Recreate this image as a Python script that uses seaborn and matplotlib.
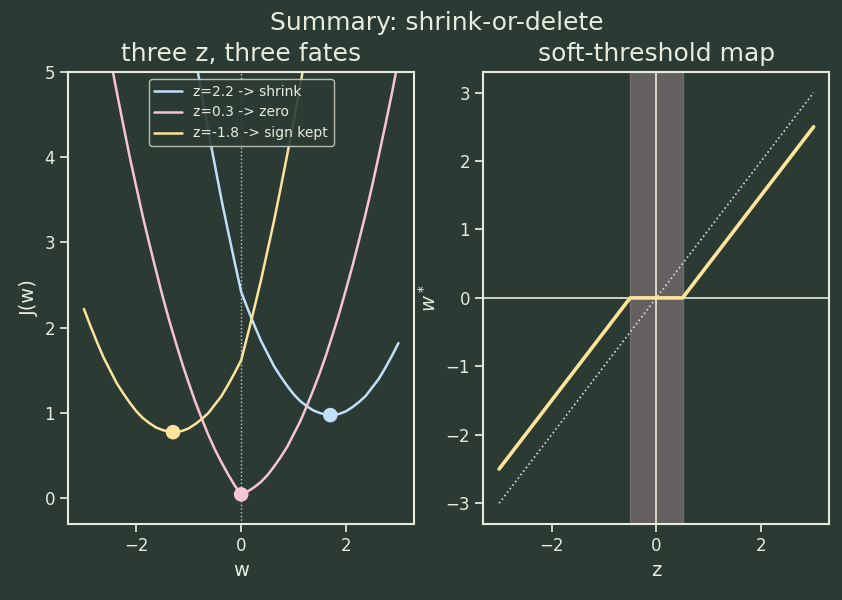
import matplotlib
matplotlib.use("Agg")
import matplotlib.pyplot as plt
import seaborn as sns

# w values and J(w)
w_grid = [-3.0, -2.875, -2.75, -2.625, -2.5, -2.375, -2.25, -2.125, -2.0, -1.875,
          -1.75, -1.625, -1.5, -1.375, -1.25, -1.125, -1.0, -0.875, -0.75, -0.625,
          -0.5, -0.375, -0.25, -0.125, 0.0, 0.125, 0.25, 0.375, 0.5, 0.625,
          0.75, 0.875, 1.0, 1.125, 1.25, 1.375, 1.5, 1.625, 1.75, 1.875,
          2.0, 2.125, 2.25, 2.375, 2.5, 2.625, 2.75, 2.875, 3.0]
J_shrink = [15.02, 14.32, 13.63, 12.95, 12.30, 11.65, 11.03, 10.42, 9.82, 9.24,
            8.68, 8.13, 7.60, 7.08, 6.58, 6.09, 5.62, 5.17, 4.73, 4.30,
            3.90, 3.50, 3.13, 2.77, 2.42, 2.22, 2.03, 1.85, 1.70, 1.55,
            1.43, 1.32, 1.22, 1.14, 1.08, 1.03, 1.00, 0.98, 0.98, 0.99,
            1.02, 1.07, 1.13, 1.20, 1.30, 1.40, 1.53, 1.67, 1.82]
J_zero = [6.95, 6.48, 6.03, 5.59, 5.17, 4.77, 4.38, 4.00, 3.65, 3.30,
          2.98, 2.67, 2.37, 2.09, 1.83, 1.58, 1.35, 1.13, 0.93, 0.74,
          0.57, 0.42, 0.28, 0.15, 0.045, 0.08, 0.13, 0.19, 0.27, 0.37,
          0.48, 0.60, 0.75, 0.90, 1.08, 1.27, 1.47, 1.69, 1.93, 2.18,
          2.45, 2.73, 3.03, 3.34, 3.67, 4.02, 4.38, 4.75, 5.15]
J_sign = [2.22, 2.02, 1.83, 1.65, 1.50, 1.35, 1.23, 1.12, 1.02, 0.94,
          0.88, 0.83, 0.80, 0.78, 0.78, 0.79, 0.82, 0.87, 0.93, 1.00,
          1.10, 1.20, 1.33, 1.47, 1.62, 1.92, 2.23, 2.55, 2.90, 3.25,
          3.63, 4.02, 4.42, 4.84, 5.28, 5.73, 6.20, 6.68, 7.18, 7.69,
          8.22, 8.77, 9.33, 9.90, 10.50, 11.10, 11.73, 12.37, 13.02]
labels = ["z=2.2 -> shrink", "z=0.3 -> zero", "z=-1.8 -> sign kept"]
w_min = [1.7, 0.0, -1.3]
J_min = [0.975, 0.045, 0.775]

# soft-threshold map
lam = 0.5
z_knots = [-3.0, -0.5, 0.5, 3.0]
w_star = [-2.5, 0.0, 0.0, 2.5]
z_ident = [-3.0, 3.0]

bg = "#2b3b34"
fg = "#e8ecdc"
colors = ["#bfdffb", "#f8c3d4", "#fde49a"]

sns.set_theme(style="ticks", rc={
    "figure.facecolor": bg, "axes.facecolor": bg, "savefig.facecolor": bg,
    "axes.edgecolor": fg, "axes.labelcolor": fg, "text.color": fg,
    "xtick.color": fg, "ytick.color": fg, "axes.linewidth": 1.5,
    "xtick.labelsize": 12, "ytick.labelsize": 12, "axes.labelsize": 14,
    "axes.titlesize": 18, "axes.grid": False,
})
plt.rcParams["font.family"] = ["DejaVu Sans"]

fig, (ax1, ax2) = plt.subplots(1, 2, figsize=(8.42, 6.0), dpi=100)
fig.subplots_adjust(left=0.081, right=0.985, top=0.88, bottom=0.127, wspace=0.2)

# left: objective curves
for J, c, lab in zip([J_shrink, J_zero, J_sign], colors, labels):
    sns.lineplot(x=w_grid, y=J, ax=ax1, color=c, lw=1.8, label=lab)
ax1.axvline(0, color="#c9d2c6", lw=1, ls=":")
sns.scatterplot(x=w_min, y=J_min, hue=labels, palette=colors, s=110,
                edgecolor="none", ax=ax1, legend=False, zorder=5)
ax1.set_ylim(-0.3, 5)
ax1.set_xticks([-2, 0, 2])
ax1.set_xlabel("w")
ax1.set_ylabel("J(w)")
ax1.set_title("three z, three fates", pad=8)
leg = ax1.legend(loc="upper center", fontsize=10, facecolor=bg, edgecolor="#c8ccc0",
                 framealpha=0.9)
for t in leg.get_texts():
    t.set_color(fg)

# right: soft-threshold map
ax2.axvspan(-lam, lam, color="#9d858a", alpha=0.5)
ax2.axhline(0, color=fg, lw=1.2)
ax2.axvline(0, color=fg, lw=1.2)
sns.lineplot(x=z_ident, y=z_ident, ax=ax2, color="#d8ded4", lw=1.2, ls=":")
sns.lineplot(x=z_knots, y=w_star, ax=ax2, color=colors[2], lw=2.6)
ax2.set_xticks([-2, 0, 2])
ax2.set_yticks([-3, -2, -1, 0, 1, 2, 3])
ax2.set_xlabel("z")
ax2.set_ylabel("$w^*$")
ax2.set_title("soft-threshold map", pad=8)

for ax in (ax1, ax2):
    for s in ax.spines.values():
        s.set_visible(True)

fig.suptitle("Summary: shrink-or-delete", fontsize=18, color=fg, x=0.519, y=0.982)
fig.savefig("out.png", dpi=100, facecolor=bg)
